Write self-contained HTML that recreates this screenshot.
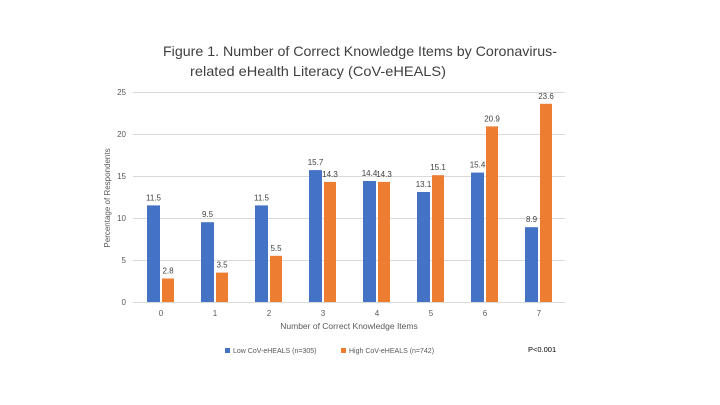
<!DOCTYPE html>
<html><head><meta charset="utf-8"><style>body{margin:0;background:#fff}svg{display:block}text{font-family:"Liberation Sans",sans-serif}</style></head><body>
<svg width="720" height="405" xmlns="http://www.w3.org/2000/svg">
<text x="163" y="56" font-size="14" fill="#404040" textLength="394" lengthAdjust="spacingAndGlyphs">Figure 1. Number of Correct Knowledge Items by Coronavirus-</text>
<text x="190" y="76" font-size="14" fill="#404040" textLength="256" lengthAdjust="spacingAndGlyphs">related eHealth Literacy (CoV-eHEALS)</text>
<g stroke="#d9d9d9" stroke-width="1">
<line x1="133" x2="565" y1="92.5" y2="92.5"/><line x1="133" x2="565" y1="134.5" y2="134.5"/><line x1="133" x2="565" y1="176.5" y2="176.5"/><line x1="133" x2="565" y1="218.5" y2="218.5"/><line x1="133" x2="565" y1="260.5" y2="260.5"/><line x1="133" x2="565" y1="302.5" y2="302.5"/>
</g>
<g font-size="8" fill="#595959" text-anchor="end">
<text x="126" y="95">25</text><text x="126" y="137">20</text><text x="126" y="179">15</text><text x="126" y="221">10</text><text x="126" y="263">5</text><text x="126" y="305">0</text>
</g>
<text transform="translate(110,198) rotate(-90)" font-size="8" fill="#595959" text-anchor="middle">Percentage of Respondents</text>
<g fill="#4472c4">
<rect x="147" y="205.4" width="13" height="96.6"/>
<rect x="201" y="222.2" width="13" height="79.8"/>
<rect x="255" y="205.4" width="13" height="96.6"/>
<rect x="309" y="170.1" width="13" height="131.9"/>
<rect x="363" y="181" width="13" height="121"/>
<rect x="417" y="192" width="13" height="110"/>
<rect x="471" y="172.6" width="13" height="129.4"/>
<rect x="525" y="227.2" width="13" height="74.8"/>
</g>
<g fill="#ed7d31">
<rect x="162" y="278.5" width="12" height="23.5"/>
<rect x="216" y="272.6" width="12" height="29.4"/>
<rect x="270" y="255.8" width="12" height="46.2"/>
<rect x="324" y="181.9" width="12" height="120.1"/>
<rect x="378" y="181.9" width="12" height="120.1"/>
<rect x="432" y="175.2" width="12" height="126.8"/>
<rect x="486" y="126.4" width="12" height="175.6"/>
<rect x="540" y="103.8" width="12" height="198.2"/>
</g>
<g font-size="8" fill="#404040" text-anchor="middle">
<text x="153.5" y="200.4">11.5</text><text x="168" y="273.5">2.8</text>
<text x="207.5" y="217.2">9.5</text><text x="222" y="267.6">3.5</text>
<text x="261.5" y="200.4">11.5</text><text x="276" y="250.8">5.5</text>
<text x="315.5" y="165.1">15.7</text><text x="330" y="176.9">14.3</text>
<text x="369.5" y="176">14.4</text><text x="384" y="176.9">14.3</text>
<text x="423.5" y="187">13.1</text><text x="438" y="170.2">15.1</text>
<text x="477.5" y="167.6">15.4</text><text x="492" y="121.4">20.9</text>
<text x="531.5" y="222.2">8.9</text><text x="546" y="98.8">23.6</text>
</g>
<g font-size="8" fill="#595959" text-anchor="middle">
<text x="161" y="316">0</text><text x="215" y="316">1</text><text x="269" y="316">2</text><text x="323" y="316">3</text><text x="377" y="316">4</text><text x="431" y="316">5</text><text x="485" y="316">6</text><text x="539" y="316">7</text>
</g>
<text x="349" y="329" font-size="8.5" fill="#595959" text-anchor="middle">Number of Correct Knowledge Items</text>
<rect x="225" y="348" width="5" height="5" fill="#4472c4"/>
<text x="233" y="353" font-size="7" fill="#595959">Low CoV-eHEALS (n=305)</text>
<rect x="341" y="348" width="5" height="5" fill="#ed7d31"/>
<text x="349" y="353" font-size="7" fill="#595959">High  CoV-eHEALS (n=742)</text>
<text x="528" y="352" font-size="7.5" fill="#000">P&lt;0.001</text>
</svg></body></html>
